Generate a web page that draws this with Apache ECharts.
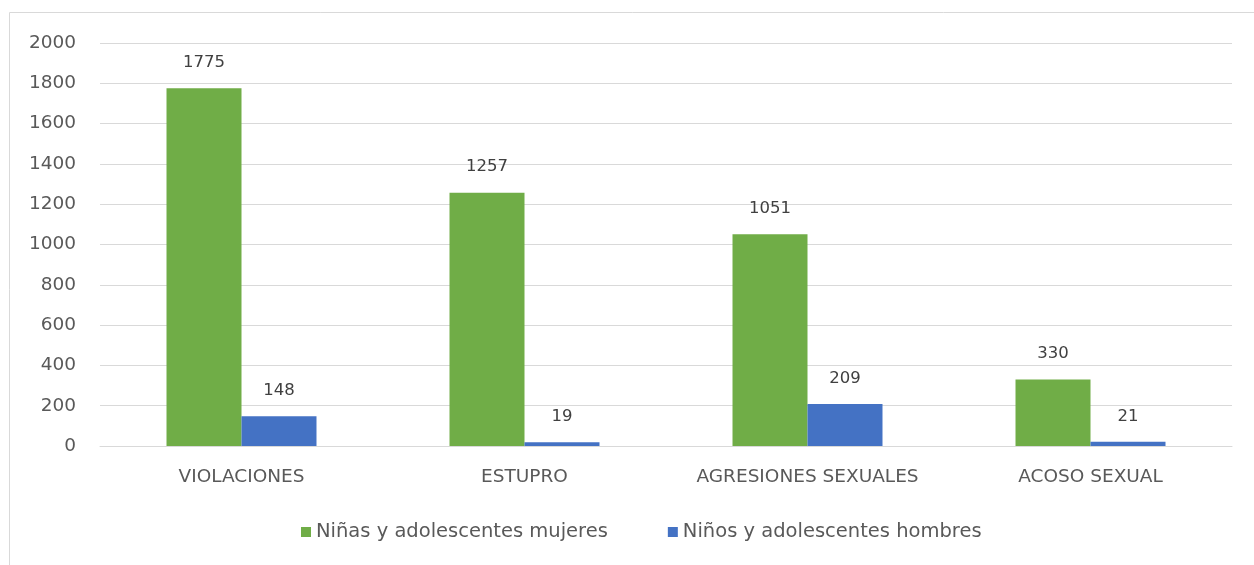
<!DOCTYPE html>
<html>
<head>
<meta charset="utf-8">
<script src="https://cdn.jsdelivr.net/npm/echarts@6/dist/echarts.min.js"></script>
<style>
  html, body { margin: 0; padding: 0; background: #fff; }
  #chart { width: 1254px; height: 565px; }
</style>
</head>
<body>
<div id="chart"></div>
<script>
const categories = ['VIOLACIONES', 'ESTUPRO', 'AGRESIONES SEXUALES', 'ACOSO SEXUAL'];
const mujeres = [1775, 1257, 1051, 330];
const hombres = [148, 19, 209, 21];
const seriesNames = ['Niñas y adolescentes mujeres', 'Niños y adolescentes hombres'];

const myChart = echarts.init(document.getElementById('chart'));
const font = '"DejaVu Sans", sans-serif';
const labelStyle = {
  show: true,
  position: 'top',
  distance: 17,
  color: '#404040',
  fontSize: 16.5,
  fontFamily: font
};

myChart.setOption({
  animation: false,
  graphic: [{
    type: 'rect',
    shape: { x: 9.5, y: 12.5, width: 1300, height: 600 },
    style: { fill: 'none', stroke: '#d9d9d9', lineWidth: 1 },
    silent: true
  }],
  grid: { left: 100, right: 22, top: 43, bottom: 119 },
  legend: {
    bottom: 18,
    left: 296,
    itemWidth: 10,
    itemHeight: 10,
    itemGap: 60,
    icon: 'rect',
    textStyle: { color: '#595959', fontSize: 19.5, fontFamily: font }
  },
  xAxis: {
    type: 'category',
    data: categories,
    axisTick: { show: false },
    axisLine: { lineStyle: { color: '#d9d9d9' } },
    axisLabel: { color: '#595959', fontSize: 18.5, fontFamily: font, margin: 22, interval: 0 }
  },
  yAxis: {
    type: 'value',
    min: 0,
    max: 2000,
    interval: 200,
    axisLine: { show: false },
    axisTick: { show: false },
    splitLine: { lineStyle: { color: '#d9d9d9' } },
    axisLabel: {
      color: '#595959', fontSize: 18.5, fontFamily: font, margin: 24,
      formatter: (v) => String(v)
    }
  },
  series: [
    {
      name: seriesNames[0],
      type: 'bar',
      data: mujeres,
      barWidth: '26.5%',
      barGap: '0%',
      itemStyle: { color: '#70AD47' },
      label: labelStyle
    },
    {
      name: seriesNames[1],
      type: 'bar',
      data: hombres,
      barWidth: '26.5%',
      itemStyle: { color: '#4472C4' },
      label: labelStyle
    }
  ]
});
</script>
</body>
</html>
